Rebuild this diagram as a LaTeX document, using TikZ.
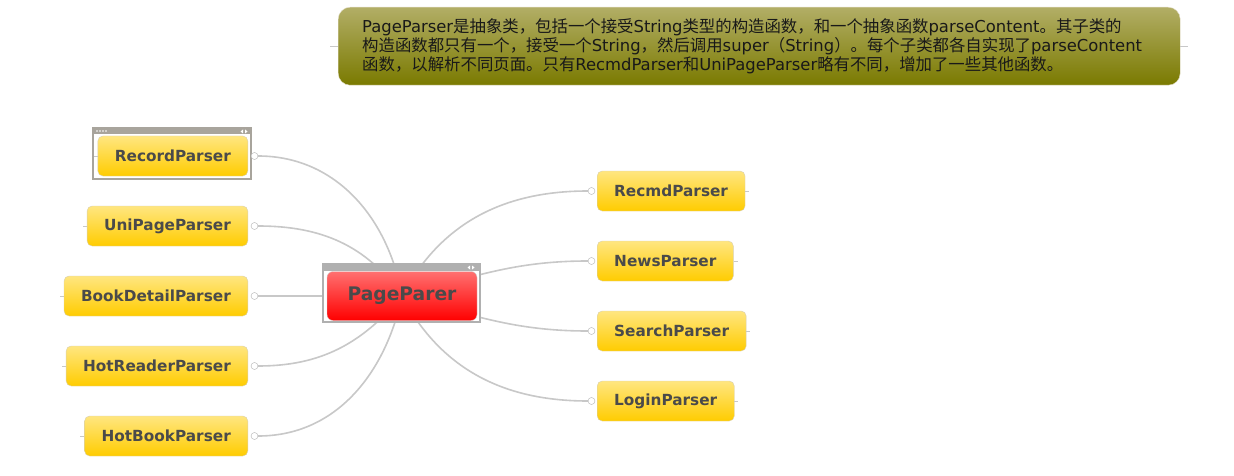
\documentclass[tikz,border=0pt]{standalone}
\usepackage{fontspec}
\usetikzlibrary{backgrounds}
\newfontfamily\cjk{Noto Sans CJK SC}
\newfontfamily\lat{DejaVu Sans}
\newcommand{\en}[1]{{\lat #1}}

\definecolor{leafTop}{HTML}{FFE680}
\definecolor{leafMid}{HTML}{FFCC00}
\definecolor{leafLine}{HTML}{D8D0B0}
\definecolor{labelGray}{HTML}{4A4A4A}
\definecolor{linkGray}{HTML}{C8C8C8}
\definecolor{noteTop}{HTML}{B2AE66}
\definecolor{noteBot}{HTML}{7A7A00}
\definecolor{frameGray}{HTML}{B0B0B0}
\definecolor{boxGray}{HTML}{A8A49C}
\definecolor{rootTop}{HTML}{FF7070}

\tikzset{
  leaf/.style={rounded corners=5pt, draw=leafLine, top color=leafTop, middle color=leafMid, bottom color=leafMid,
               text=labelGray, font=\lat\bfseries\fontsize{15.3}{16}\selectfont,
               minimum height=40, inner xsep=17},
  root/.style={rounded corners=6pt, draw=frameGray!60, top color=rootTop, middle color=red, bottom color=red,
               text=labelGray, font=\lat\bfseries\fontsize{18.7}{19}\selectfont,
               minimum width=150, minimum height=49},
  note/.style={rounded corners=12pt, draw=leafLine!70, top color=noteTop, middle color=noteBot, bottom color=noteBot,
               text=black!90, font=\cjk\fontsize{16.4}{19}\selectfont, align=left,
               text width=794, inner xsep=24, minimum height=78},
  knob/.style={circle, draw=black!30, fill=white, inner sep=0pt, minimum size=7},
  link/.style={draw=linkGray, line width=1.6pt},
  stub/.style={draw=linkGray, line width=0.6pt},
  frame/.style={draw=#1, line width=2pt, fill=white}
}

\begin{document}
\begin{tikzpicture}[x=1pt,y=-1pt]
\useasboundingbox (0,0) rectangle (1234,476);

% remark
\node[note, anchor=north west] (remark) at (338,7)
  {\en{PageParser}是抽象类，包括一个接受\en{String}类型的构造函数，和一个抽象函数\en{parseContent}。其子类的\\
   构造函数都只有一个，接受一个\en{String}，然后调用\en{super}（\en{String}）。每个子类都各自实现了\en{parseContent}\\
   函数，以解析不同页面。只有\en{RecmdParser}和\en{UniPageParser}略有不同，增加了一些其他函数。};
\draw[stub] (remark.west) -- ++(-8,0);
\draw[stub] (remark.east) -- ++(8,0);

% boxed centre
\draw[frame=frameGray] (323,264) rectangle (480,322);
\fill[frameGray] (323,264) rectangle (480,271);
\fill[white] (470,265.5) -- (467.5,267.5) -- (470,269.5) -- cycle;
\fill[white] (472,265.5) -- (474.5,267.5) -- (472,269.5) -- cycle;
\node[root] (root) at (402,296) {PageParer};

% boxed RecordParser
\draw[frame=boxGray] (93,128) rectangle (251,179);
\fill[boxGray] (93,128) rectangle (251,134.5);
\foreach \dx in {97,100,103,106}
  \fill[white] (\dx,131) circle (0.9);
\fill[white] (243,129.5) -- (240.5,131.5) -- (243,133.5) -- cycle;
\fill[white] (245,129.5) -- (247.5,131.5) -- (245,133.5) -- cycle;

% left side
\foreach \name/\txt/\y in {rec/RecordParser/156, uni/UniPageParser/226, book/BookDetailParser/296,
                           hotr/HotReaderParser/366, hotb/HotBookParser/436}
{
  \node[leaf, anchor=east] (\name) at (248,\y) {\txt};
  \node[knob] (\name-k) at (254.5,\y) {};
  \draw[stub] (\name.west) -- ++(-4,0);
}

% right side
\foreach \name/\txt/\y in {recmd/RecmdParser/191, news/NewsParser/261,
                           search/SearchParser/331, login/LoginParser/401}
{
  \node[leaf, anchor=west] (\name) at (597,\y) {\txt};
  \node[knob] (\name-k) at (591.5,\y) {};
  \draw[stub] (\name.east) -- ++(4,0);
}

\begin{pgfonlayer}{background}
  \fill[white] (0,0) rectangle (1234,476);
  \foreach \name/\ang in {rec/100, uni/125, book/180, hotr/230, hotb/258}
    \draw[link] (root.center) to[out=\ang, in=0] (\name-k.east);
  \foreach \name/\ang in {recmd/62, news/15, search/-15, login/-62}
    \draw[link] (root.center) to[out=\ang, in=180] (\name-k.west);
\end{pgfonlayer}
\end{tikzpicture}
\end{document}
